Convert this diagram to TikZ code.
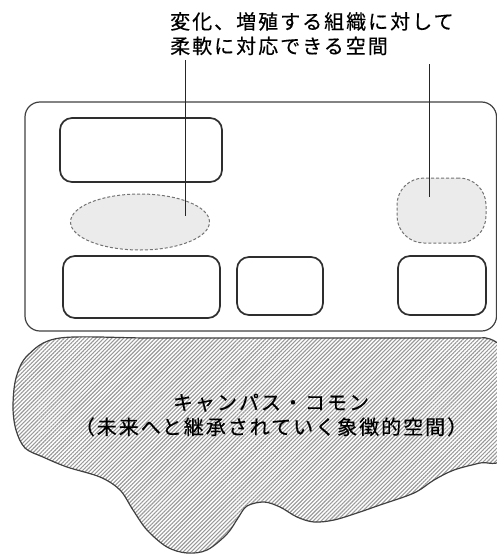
\documentclass[tikz,border=0pt]{standalone}
\usepackage{fontspec}
\setmainfont{Noto Sans CJK JP}
\newfontfamily\notefont[LetterSpace=10,FakeBold=0.4]{Noto Sans CJK JP}
\usepackage{tikz}
\usetikzlibrary{shapes.geometric,patterns.meta}
\tikzstyle{room}=[rectangle, draw=black!82, line width=1.7pt, rounded corners=12pt, inner sep=0pt]
\tikzstyle{flex}=[draw=black!55, dash pattern=on 3pt off 2pt, line width=1pt, fill=black!8, inner sep=0pt]
\tikzstyle{note}=[inner sep=0pt, font=\notefont\fontsize{20}{24.5}\selectfont]
\providecommand{\room}{\node[room]}
\providecommand{\flex}{\node[flex]}

\begin{document}
\begin{tikzpicture}[x=1pt, y=-1pt,
    every edge/.style={draw, line width=0.8pt, black!85}
]
\useasboundingbox (0,0) rectangle (497,557);
\clip (0,0) rectangle (497,557);
% campus commons
\draw[line width=1.2pt, black!75, pattern={Lines[angle=45,distance=2.8pt,line width=1.1pt]}, pattern color=black!40]
  plot[smooth cycle, tension=0.55] coordinates {
  (60,338) (150,338) (260,338) (370,338) (470,338) (490,339) (503,352) (508,400) (502,458)
  (480,463) (454,470) (434,480) (414,493) (380,505) (357,513) (334,520) (314,522)
  (297,517) (280,507) (264,502) (247,506) (238,518) (227,534) (207,550) (187,553)
  (167,547) (147,530) (133,510) (120,490) (100,477) (67,467) (43,457) (25,448)
  (16,430) (13,407) (16,378) (28,355)};
\node (campus) at (260.75,216.5) [draw=black!75, line width=1.2pt, rounded corners=15pt, minimum width=471.5pt, minimum height=229pt] {};
\room (roomA) at (141,150) [minimum width=162pt, minimum height=64pt] {};
\room (roomB) at (141.5,287) [minimum width=157pt, minimum height=62pt] {};
\room (roomC) at (280,286) [minimum width=86pt, minimum height=58pt] {};
\room (roomD) at (442,285.5) [minimum width=88pt, minimum height=59pt] {};
\flex (flexL) at (140,222) [ellipse, minimum width=139pt, minimum height=56pt] {};
\flex (flexR) at (441.5,210.5) [rectangle, rounded corners=27pt, minimum width=89pt, minimum height=65pt] {};
\node (flexnote) at (170,12) [note, anchor=north west, align=left] {変化、増殖する組織に対して\\柔軟に対応できる空間};
\node (commons) at (271,415) [note, align=center] {キャンパス・コモン\\（未来へと継承されていく象徴的空間）};
\coordinate (tagL) at (185,60);
\coordinate (tagR) at (429,64);
\coordinate (endL) at (185,216);
\coordinate (endR) at (429,197);
\path
(tagL) edge (endL)
(tagR) edge (endR)
;
\end{tikzpicture}
\end{document}
